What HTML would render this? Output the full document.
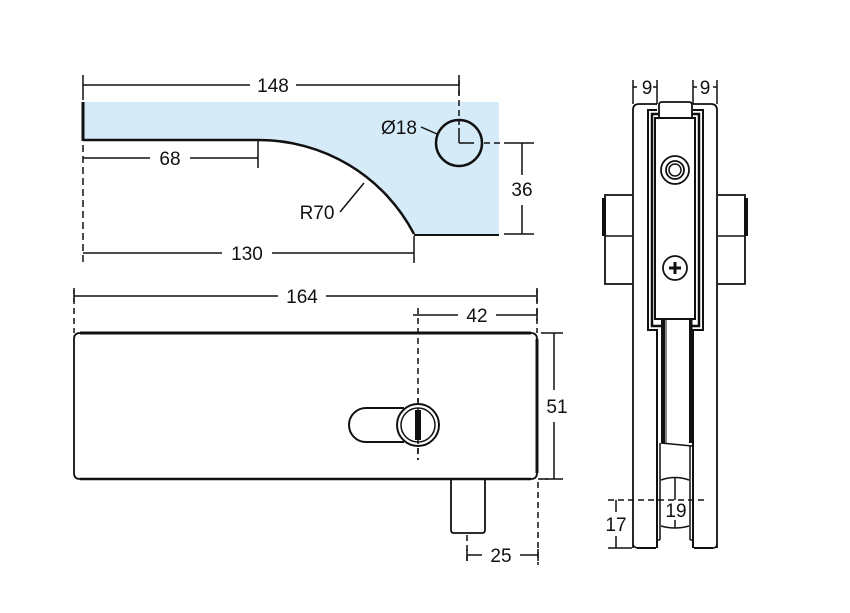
<!DOCTYPE html>
<html><head><meta charset="utf-8"><style>
html,body{margin:0;padding:0;background:#fff;}
svg{display:block;}
text{font-family:"Liberation Sans",sans-serif;font-size:19px;fill:#111;text-anchor:middle;}
</style></head><body>
<svg width="850" height="613" viewBox="0 0 850 613" xmlns="http://www.w3.org/2000/svg">
<g stroke="#111" fill="none" stroke-width="1.5">
<path d="M83,102 H499 V235 H414 A170,170 0 0 0 258,140 H83 Z" fill="#d6ebf8" stroke="none"/>
<line x1="83" y1="102" x2="83" y2="141" stroke-width="3"/>
<line x1="83" y1="140" x2="258" y2="140" stroke-width="2.5"/>
<path d="M258,140 A175,175 0 0 1 414,234" stroke-width="2.5"/>
<line x1="414" y1="235" x2="499" y2="235" stroke-width="2"/>
<circle cx="459" cy="143" r="23" stroke-width="2.5"/>
<line x1="459" y1="143" x2="459" y2="128" />
<line x1="459" y1="143" x2="474" y2="143" />
<line x1="459" y1="80" x2="459" y2="125" stroke-dasharray="6,4"/>
<line x1="484" y1="143" x2="500" y2="143" stroke-dasharray="6,4"/>
<line x1="83" y1="75" x2="83" y2="100"/>
<line x1="459" y1="75" x2="459" y2="95"/>
<line x1="83" y1="85" x2="250" y2="85"/><line x1="296" y1="85" x2="459" y2="85"/>
<line x1="83" y1="145" x2="83" y2="262" stroke-dasharray="7,4"/>
<line x1="258" y1="140" x2="258" y2="168"/>
<line x1="83" y1="158" x2="150" y2="158"/><line x1="190" y1="158" x2="258" y2="158"/>
<line x1="414" y1="236" x2="414" y2="263"/>
<line x1="83" y1="253" x2="222" y2="253"/><line x1="272" y1="253" x2="414" y2="253"/>
<line x1="504" y1="143" x2="534" y2="143"/><line x1="504" y1="234" x2="534" y2="234"/>
<line x1="522" y1="143" x2="522" y2="175"/><line x1="522" y1="205" x2="522" y2="234"/>
<line x1="421" y1="127" x2="437" y2="134"/>
<line x1="340" y1="212" x2="364" y2="183"/>

<line x1="74" y1="288" x2="74" y2="333" stroke-dasharray="6,4"/>
<line x1="537" y1="288" x2="537" y2="333" stroke-dasharray="6,4"/>
<line x1="74" y1="296" x2="278" y2="296"/><line x1="326" y1="296" x2="537" y2="296"/>
<line x1="74" y1="290" x2="74" y2="302"/><line x1="537" y1="290" x2="537" y2="302"/>
<line x1="418" y1="308" x2="418" y2="460" stroke-dasharray="6,4"/>
<line x1="413" y1="315" x2="458" y2="315"/><line x1="496" y1="315" x2="537" y2="315"/>
<line x1="537" y1="309" x2="537" y2="321"/>
<path d="M80,333 H531 Q537,333 537,339 V473 Q537,479 531,479 H80 Q74,479 74,473 V339 Q74,333 80,333 Z" stroke-width="1.8"/>
<line x1="80" y1="333" x2="531" y2="333" stroke-width="3"/>
<line x1="537" y1="339" x2="537" y2="473" stroke-width="3"/>
<line x1="80" y1="479" x2="531" y2="479" stroke-width="2.5"/>
<line x1="541" y1="333" x2="563" y2="333"/><line x1="541" y1="479" x2="563" y2="479"/>
<line x1="554" y1="333" x2="554" y2="390"/><line x1="554" y1="422" x2="554" y2="479"/>
<path d="M404,408 H366 A17,17 0 0 0 366,442 H404" stroke-width="2"/>
<circle cx="418" cy="425" r="21" stroke-width="2" fill="#fff"/>
<circle cx="418" cy="425" r="17" stroke-width="1.5"/>
<rect x="415" y="410" width="6" height="30" fill="#111" stroke="none"/>
<line x1="418" y1="398" x2="418" y2="460" stroke-dasharray="6,4"/>
<path d="M451,480 V530 Q451,533 454,533 H482 Q485,533 485,530 V480" stroke-width="1.8"/>
<line x1="467" y1="535" x2="467" y2="565" stroke-dasharray="6,4"/>
<line x1="538" y1="482" x2="538" y2="565" stroke-dasharray="6,4"/>
<line x1="467" y1="555" x2="482" y2="555"/><line x1="520" y1="555" x2="538" y2="555"/>
<line x1="467" y1="549" x2="467" y2="561"/><line x1="538" y1="549" x2="538" y2="561"/>
<line x1="538" y1="479" x2="548" y2="479" stroke-dasharray="4,3"/>

<path d="M633,548 V110 Q633,104 639,104 H657 M693,104 H711 Q717,104 717,110 V548" stroke-width="1.8"/>
<path d="M639,548 Q633,548 633,543" />
<line x1="637" y1="548" x2="656" y2="548" stroke-width="2"/>
<line x1="694" y1="548" x2="713" y2="548" stroke-width="2"/>
<path d="M713,548 Q717,548 717,543"/>
<line x1="633" y1="80" x2="633" y2="104"/><line x1="657" y1="80" x2="657" y2="104"/>
<line x1="693" y1="80" x2="693" y2="104"/><line x1="717" y1="80" x2="717" y2="104"/>
<line x1="633" y1="87" x2="637" y2="87"/><line x1="653" y1="87" x2="657" y2="87"/>
<line x1="693" y1="87" x2="697" y2="87"/><line x1="713" y1="87" x2="717" y2="87"/>
<path d="M659,118 V105 Q659,102 662,102 H689 Q692,102 692,105 V118" stroke-width="1.8"/>
<path d="M657,110 H648 V330 H657 V548" stroke-width="2"/>
<path d="M693,110 H703 V330 H693 V548" stroke-width="2"/>
<path d="M659,114 H652 V326 H661" stroke-width="2.5"/>
<path d="M692,114 H699 V326 H690" stroke-width="2.5"/>
<rect x="655" y="118" width="40" height="201" stroke-width="2"/>
<circle cx="675" cy="170" r="14" stroke-width="1.8"/>
<circle cx="675" cy="170" r="9" stroke-width="1.8"/>
<circle cx="675" cy="170" r="6" stroke-width="1.5"/>
<circle cx="675" cy="268" r="12" stroke-width="1.8"/>
<line x1="669" y1="268" x2="681" y2="268" stroke-width="3"/>
<line x1="675" y1="262" x2="675" y2="274" stroke-width="3"/>
<rect x="661" y="320" width="4" height="123" fill="#111" stroke="none"/>
<rect x="689" y="320" width="3.5" height="123" fill="#111" stroke="none"/>
<line x1="666" y1="320" x2="666" y2="443" stroke-width="1"/>
<path d="M661,443 L692,446"/>
<line x1="660" y1="443" x2="660" y2="540"/>
<line x1="690" y1="446" x2="690" y2="540"/>
<line x1="657" y1="540" x2="660" y2="540"/><line x1="690" y1="540" x2="693" y2="540"/>
<path d="M661,480 Q675,475 689,480"/>
<path d="M661,526 Q675,530 689,526"/>
<line x1="675" y1="478" x2="675" y2="500"/>
<line x1="675" y1="520" x2="675" y2="528"/>
<path d="M632,195 H605 V284 H632" stroke-width="1.8"/>
<line x1="605" y1="236" x2="632" y2="236"/>
<rect x="602" y="198" width="4" height="38" fill="#111" stroke="none"/>
<path d="M718,195 H745 V284 H718" stroke-width="1.8"/>
<line x1="718" y1="236" x2="745" y2="236"/>
<rect x="744" y="198" width="4" height="38" fill="#111" stroke="none"/>
<line x1="608" y1="500" x2="708" y2="500" stroke-dasharray="6,4"/>
<line x1="608" y1="548" x2="632" y2="548"/>
<line x1="616" y1="500" x2="616" y2="512"/><line x1="616" y1="536" x2="616" y2="548"/>
</g>
<text x="273" y="92">148</text>
<text x="170" y="165">68</text>
<text x="247" y="260">130</text>
<text x="522" y="196">36</text>
<text x="399" y="134">Ø18</text>
<text x="317" y="219">R70</text>
<text x="302" y="303">164</text>
<text x="477" y="322">42</text>
<text x="557" y="413">51</text>
<text x="501" y="562">25</text>
<text x="647" y="94">9</text>
<text x="705" y="94">9</text>
<text x="616" y="531">17</text>
<text x="676" y="517">19</text>
</svg>
</body></html>
